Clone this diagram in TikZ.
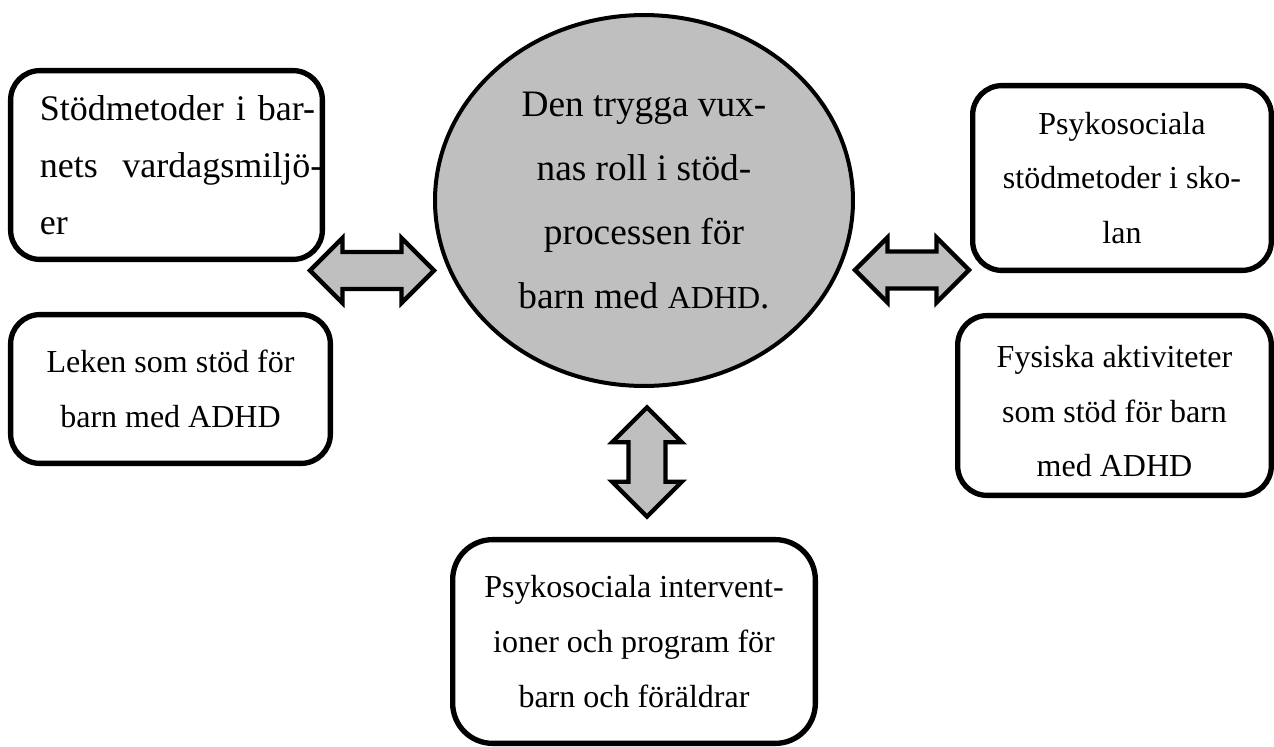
\documentclass[tikz,border=0pt]{standalone}
\usepackage{fontspec}
\setmainfont{Liberation Serif}
\usepackage{tikz}
\usetikzlibrary{shapes.geometric,shapes.arrows}
\definecolor{hubgray}{RGB}{191,191,191}

\begin{document}
\begin{tikzpicture}[
        x=0.375pt, y=-0.375pt,
        every node/.style={inner sep=0pt, align=center},
        box/.style={draw, line width=2pt, rounded corners=11pt, font=\fontsize{12}{20.6}\selectfont},
        hub/.style={ellipse, draw, line width=1.5pt, fill=hubgray, font=\fontsize{14}{24}\selectfont},
        dblarrow/.style={double arrow, draw, fill=hubgray, line width=1.6pt, double arrow head extend=5.25pt, inner ysep=6.1pt, inner xsep=0pt}
    ]
    \useasboundingbox (0,0) rectangle (1274,747);
    \node[hub, minimum width=156.75pt, minimum height=139.1pt] (hub) at (644,200.5)
        {Den trygga vux-\\nas roll i stöd-\\processen för\\barn med {\fontsize{12}{24}\selectfont ADHD}.};
    \node[box, minimum width=116.9pt, minimum height=70.8pt, text width=116.9pt, align=left,
        font=\fontsize{13.5}{21.4}\selectfont] (vardag) at (166.5,165)
        {\hspace*{11pt}Stödmetoder i bar-\\\hspace*{11pt}nets\hfill vardagsmiljö-\\\hspace*{11pt}er};
    \node[box, minimum width=119.9pt, minimum height=55.8pt] (leken) at (170.5,389)
        {Leken som stöd för\\barn med ADHD};
    \node[box, minimum width=112pt, minimum height=69.3pt] (skolan) at (1122,178)
        {Psykosociala\\stödmetoder i sko-\\lan};
    \node[box, minimum width=117.6pt, minimum height=67.4pt] (fysiska) at (1114.5,405.5)
        {\rule{0pt}{12.5pt}Fysiska aktiviteter\\som stöd för barn\\med ADHD};
    \node[box, rounded corners=15pt, minimum width=136pt, minimum height=76.4pt] (program) at (634,641.5)
        {Psykosociala intervent-\\ioner och program för\\barn och föräldrar};
    \node[dblarrow, minimum height=46.5pt] (arrL) at (372,270.5) {};
    \node[dblarrow, minimum height=42.75pt] (arrR) at (912,270) {};
    \node[dblarrow, minimum height=40.9pt, double arrow head extend=6.15pt, rotate=90] (arrD) at (647,462) {};
\end{tikzpicture}
\end{document}
